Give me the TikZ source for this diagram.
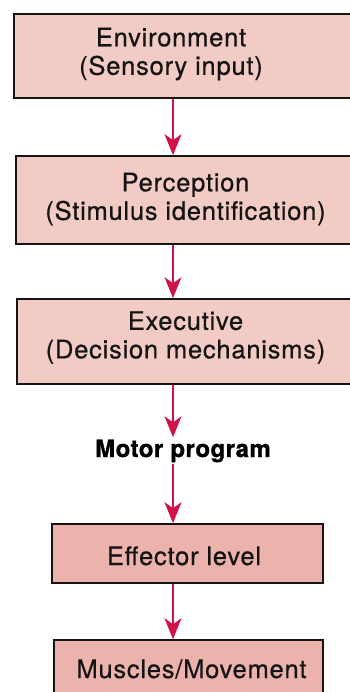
\documentclass[tikz,border=0pt]{standalone}
\usepackage{fontspec}
\setmainfont{TeX Gyre Heros}
\newfontfamily\boxfont[LetterSpace=3,FakeBold=0.6]{TeX Gyre Heros}
\newfontfamily\motorfont[LetterSpace=2,FakeBold=1.2]{TeX Gyre Heros}
\usetikzlibrary{arrows.meta}
\definecolor{boxA}{HTML}{F2CBC5}
\definecolor{boxB}{HTML}{ECB3AC}
\definecolor{arr}{HTML}{D0134A}
\definecolor{ink}{HTML}{141414}
\begin{document}
\begin{tikzpicture}[x=1pt,y=-1pt,
  stagebox/.style={draw=ink, line width=1.6pt, inner sep=0pt, rectangle},
  lightbox/.style={stagebox, fill=boxA},
  darkbox/.style={stagebox, fill=boxB},
  stagetext/.style={text=ink, align=center, inner sep=0pt,
    font=\fontsize{25.5}{28.5}\selectfont\boxfont},
  motortext/.style={text=black, font=\fontsize{24}{28}\selectfont\motorfont\bfseries},
  flow/.style={draw=arr, line width=1.6pt,
    -{Stealth[length=21pt,width=17pt,inset=6pt]}}]
\useasboundingbox (0,0) rectangle (350,692);
\clip (0,0) rectangle (350,692);
\fill[white] (0,0) rectangle (350,692);
\coordinate (ax) at (173,0);

\node[lightbox, minimum width=366pt, minimum height=84pt] (b1) at (197,56) {};
\node[lightbox, minimum width=364pt, minimum height=88pt] (b2) at (198,200) {};
\node[lightbox, minimum width=363pt, minimum height=85pt] (b3) at (198.5,341.5) {};
\node[darkbox, minimum width=271pt, minimum height=59pt] (b4) at (187.5,553.5) {};
\node[darkbox, minimum width=269pt, minimum height=80pt] (b5) at (188.5,680) {};

\node[stagetext] (t1) at (171,54) {Environment\\(Sensory input)};
\node[stagetext] (t2) at (185.5,199) {Perception\\(Stimulus identification)};
\node[stagetext] (t3) at (185.5,337.5) {Executive\\(Decision mechanisms)};
\node[motortext, anchor=base, inner ysep=2pt] (motor) at (183,457) {Motor program};
\node[stagetext, anchor=base] (t4) at (184,565) {Effector level};
\node[stagetext, anchor=base] (t5) at (191.5,678) {Muscles/Movement};

\draw[flow] (b1.south -| ax) -- (b2.north -| ax);
\draw[flow] (b2.south -| ax) -- (b3.north -| ax);
\draw[flow] (b3.south -| ax) -- (motor.north -| ax);
\draw[flow] (motor.south -| ax) -- (b4.north -| ax);
\draw[flow] (b4.south -| ax) -- (b5.north -| ax);
\end{tikzpicture}
\end{document}
